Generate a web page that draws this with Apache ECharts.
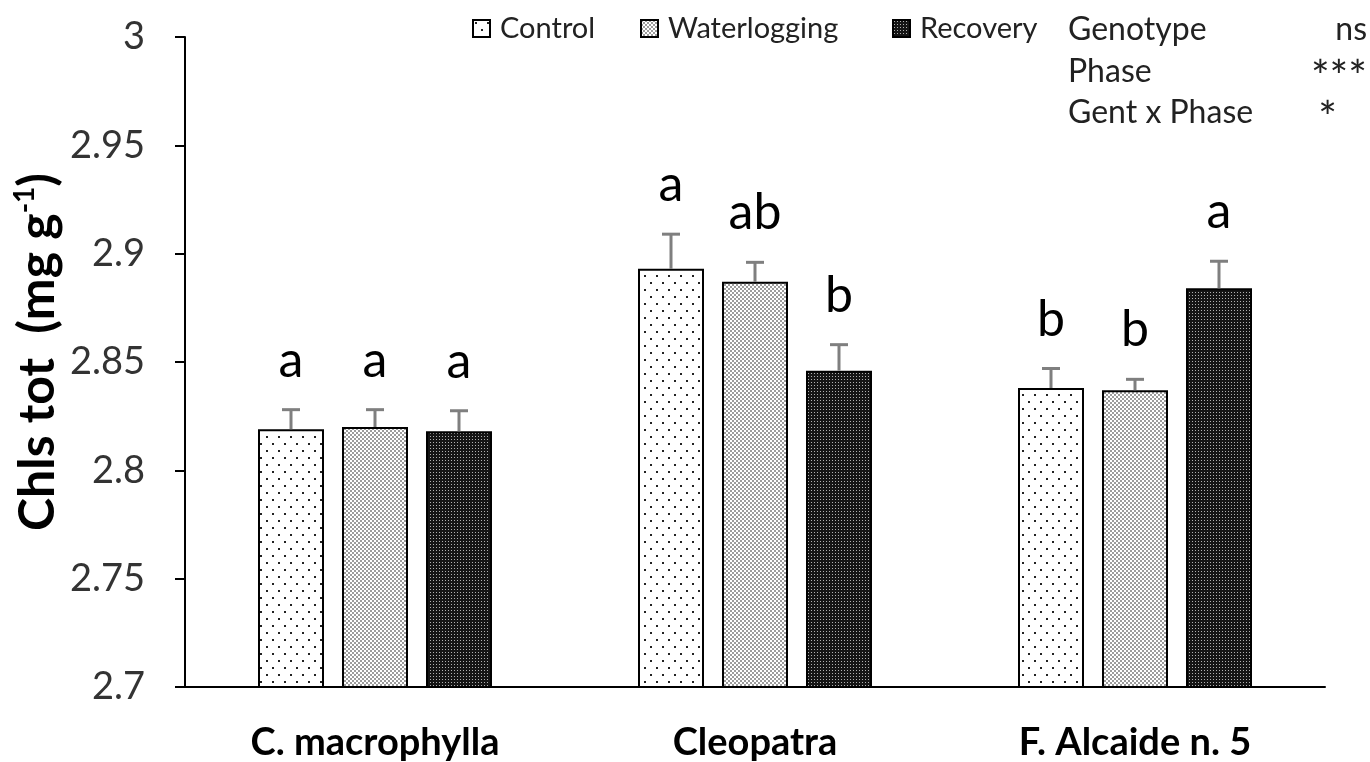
<!DOCTYPE html>
<html>
<head>
<meta charset="utf-8">
<script src="https://cdn.jsdelivr.net/npm/echarts@6/dist/echarts.min.js"></script>
<style>
  html, body { margin: 0; padding: 0; background: #fff; }
  #chart { width: 1370px; height: 762px; }
</style>
</head>
<body>
<div id="chart"></div>
<script>
// data
const genotypes = ['C. macrophylla', 'Cleopatra', 'F. Alcaide n. 5'];
const phases = ['Control', 'Waterlogging', 'Recovery'];

const control = [2.819, 2.893, 2.838];
const waterlogging = [2.820, 2.887, 2.837];
const recovery = [2.818, 2.846, 2.884];

const controlErr = [0.009, 0.016, 0.009];
const waterloggingErr = [0.008, 0.009, 0.005];
const recoveryErr = [0.0095, 0.012, 0.0125];

const controlLetters = ['a', 'a', 'b'];
const waterloggingLetters = ['a', 'ab', 'b'];
const recoveryLetters = ['a', 'b', 'a'];

const statNames = ['Genotype', 'Phase', 'Gent x Phase'];
const statMarks = ['ns', '***', '*'];

const yTicks = { min: 2.7, max: 3, step: 0.05 };

const FONT = 'Lato, "Liberation Sans", sans-serif';
const BAR_W = 66;
const BAR_GAP = 18;

// fill patterns like the excel dotted fills
function makePattern(w, h, bg, fg, dots) {
    let c = document.createElement('canvas');
    c.width = w;
    c.height = h;
    let ctx = c.getContext('2d');
    ctx.fillStyle = bg;
    ctx.fillRect(0, 0, w, h);
    ctx.fillStyle = fg;
    dots.forEach(d => ctx.fillRect(d[0], d[1], d[2], d[3]));
    return c;
}

const patControl = makePattern(12, 14, '#ffffff', '#222222', [[2, 2, 2, 2], [8, 9, 2, 2]]);
const patWater = makePattern(4, 4, '#ffffff', '#9c9c9c', [[0, 0, 2, 2], [2, 2, 2, 2]]);
const patRecovery = makePattern(3, 3, '#151515', '#b0b0b0', [[1, 1, 1, 1]]);

const patterns = [patControl, patWater, patRecovery];
const values = [control, waterlogging, recovery];
const errors = [controlErr, waterloggingErr, recoveryErr];
const letters = [controlLetters, waterloggingLetters, recoveryLetters];

// error bar + letter rows: [genotype idx, phase idx, mean, se, letter]
let errData = [];
for (let s = 0; s < phases.length; s++) {
    for (let g = 0; g < genotypes.length; g++) {
        errData.push([g, s, values[s][g], errors[s][g], letters[s][g]]);
    }
}

function renderErr(params, api) {
    let g = api.value(0);
    let s = api.value(1);
    let v = api.value(2);
    let e = api.value(3);
    let letter = errData[params.dataIndex][4];
    let base = api.coord([g, v]);
    let top = api.coord([g, v + e]);
    let x = base[0] + (s - 1) * (BAR_W + BAR_GAP);
    let lineStyle = { stroke: '#7f7f7f', lineWidth: 3 };
    return {
        type: 'group',
        children: [
            { type: 'line', shape: { x1: x, y1: base[1], x2: x, y2: top[1] }, style: lineStyle },
            { type: 'line', shape: { x1: x - 9, y1: top[1], x2: x + 9, y2: top[1] }, style: lineStyle },
            {
                type: 'text',
                style: {
                    text: letter, x: x, y: top[1] - 24,
                    align: 'center', verticalAlign: 'bottom',
                    font: '50px ' + FONT, fill: '#000'
                }
            }
        ]
    };
}

let series = phases.map((name, i) => ({
    name: name,
    type: 'bar',
    data: values[i],
    barWidth: BAR_W,
    barGap: (BAR_GAP / BAR_W * 100) + '%',
    itemStyle: {
        color: { image: patterns[i], repeat: 'repeat' },
        borderColor: '#000',
        borderWidth: 2
    },
    emphasis: { disabled: true }
}));

series.push({
    type: 'custom',
    renderItem: renderErr,
    data: errData,
    encode: { x: 0, y: 2 },
    z: 5,
    silent: true
});

// one legend per item so the uneven spacing of the original can be kept
const legendLeft = [472, 640, 892];
let legends = phases.map((name, i) => ({
    data: [name],
    left: legendLeft[i],
    top: 14,
    padding: 0,
    icon: 'rect',
    itemWidth: 17,
    itemHeight: 17,
    itemGap: 0,
    selectedMode: false,
    textStyle: { fontFamily: FONT, fontSize: 29, color: '#222', padding: [0, 0, 0, 5] }
}));

let graphics = [{
    type: 'text',
    x: 38,
    y: 352,
    rotation: Math.PI / 2,
    style: {
        text: '{b|Chls tot  (mg g}{sup|-1}{b|)}',
        align: 'center',
        verticalAlign: 'middle',
        rich: {
            b: { fontFamily: FONT, fontSize: 50, fontWeight: 'bold', fill: '#000', lineHeight: 56 },
            sup: { fontFamily: FONT, fontSize: 28, fontWeight: 'bold', fill: '#000', lineHeight: 56, padding: [0, 0, 26, 0] }
        }
    }
}];
const markRight = [1367, 1367, 1337];
statNames.forEach((t, i) => {
    graphics.push({
        type: 'text', x: 1068, y: 30 + i * 41.5,
        style: { text: t, font: '32px ' + FONT, fill: '#222', verticalAlign: 'middle' }
    });
    let star = statMarks[i].indexOf('*') >= 0;
    graphics.push({
        type: 'text', x: markRight[i], y: 30 + i * 41.5 + (star ? 6 : 0),
        style: {
            text: statMarks[i], font: (star ? 44 : 32) + 'px ' + FONT,
            fill: '#222', align: 'right', verticalAlign: 'middle'
        }
    });
});

let myChart = echarts.init(document.getElementById('chart'));

let option = {
    animation: false,
    backgroundColor: '#fff',
    grid: { left: 185, right: 45, top: 37, bottom: 75, outerBoundsMode: 'none', containLabel: false },
    legend: legends,
    xAxis: {
        type: 'category',
        data: genotypes,
        axisLine: { lineStyle: { color: '#000', width: 2 } },
        axisTick: { show: false },
        axisLabel: {
            margin: 37,
            fontFamily: FONT,
            fontSize: 38,
            fontWeight: 'bold',
            color: '#000'
        }
    },
    yAxis: {
        type: 'value',
        min: yTicks.min,
        max: yTicks.max,
        interval: yTicks.step,
        splitLine: { show: false },
        axisLine: { show: true, lineStyle: { color: '#000', width: 2 } },
        axisTick: { show: true, length: 10, lineStyle: { color: '#000', width: 2 } },
        axisLabel: {
            margin: 40,
            fontFamily: FONT,
            fontSize: 38,
            color: '#333'
        }
    },
    graphic: graphics,
    series: series
};

myChart.setOption(option);
</script>
</body>
</html>
